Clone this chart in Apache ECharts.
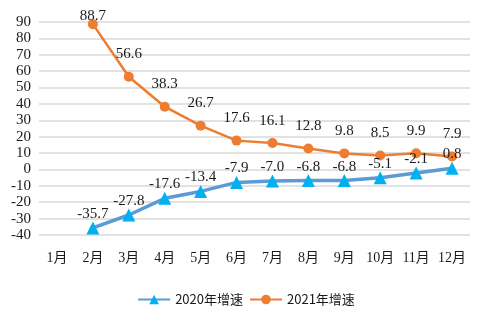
<!DOCTYPE html>
<html>
<head>
<meta charset="utf-8">
<script src="https://cdn.jsdelivr.net/npm/echarts@6/dist/echarts.min.js"></script>
<style>
  html, body { margin: 0; padding: 0; background: #ffffff; }
  #chart { width: 492px; height: 325px; }
</style>
</head>
<body>
<div id="chart"></div>
<script>
// Months along the x axis
const months = ['1月', '2月', '3月', '4月', '5月', '6月', '7月', '8月', '9月', '10月', '11月', '12月'];
// Year-on-year growth (%), cumulative by month
const growth2020 = [null, -35.7, -27.8, -17.6, -13.4, -7.9, -7.0, -6.8, -6.8, -5.1, -2.1, 0.8];
const growth2021 = [null, 88.7, 56.6, 38.3, 26.7, 17.6, 16.1, 12.8, 9.8, 8.5, 9.9, 7.9];
const seriesNames = ['2020年增速', '2021年增速'];
// Value axis range and step
const yMin = -40, yMax = 90, yStep = 10;

const serif = '"Liberation Serif", "Noto Sans CJK SC", serif';
const labelColor = '#1a1a1a';

// The topmost label would leave the plot area, so it sits beside its point
const data2021 = growth2021.map(v =>
  v !== null && v >= yMax - 5 ? { value: v, label: { distance: -4 } } : v
);

const chart = echarts.init(document.getElementById('chart'), null, { renderer: 'canvas' });
chart.setOption({
  animation: false,
  backgroundColor: '#ffffff',
  grid: { left: 39, right: 22, top: 22, bottom: 90, containLabel: false },
  legend: {
    bottom: 14,
    left: 'center',
    itemWidth: 32,
    itemHeight: 12,
    itemGap: 6,
    textStyle: { fontFamily: '"Noto Sans CJK SC", sans-serif', fontSize: 13, color: labelColor },
    data: seriesNames
  },
  xAxis: {
    type: 'category',
    data: months,
    boundaryGap: true,
    axisLine: { show: false },
    axisTick: { show: false },
    axisLabel: { interval: 0, margin: 16, fontFamily: serif, fontSize: 14, color: labelColor }
  },
  yAxis: {
    type: 'value',
    min: yMin,
    max: yMax,
    interval: yStep,
    axisLine: { show: false },
    axisTick: { show: false },
    axisLabel: { margin: 8, fontFamily: serif, fontSize: 15, color: labelColor },
    splitLine: { lineStyle: { color: '#d9d9d9', width: 1.5 } }
  },
  series: [
    {
      name: seriesNames[0],
      type: 'line',
      data: growth2020,
      symbol: 'triangle',
      symbolSize: 13,
      itemStyle: { color: '#00b0f0' },
      lineStyle: { color: '#5b9bd5', width: 3.5 },
      label: {
        show: true,
        position: 'top',
        distance: 0,
        fontFamily: serif,
        fontSize: 15,
        color: labelColor,
        formatter: p => p.value.toFixed(1)
      },
      z: 3
    },
    {
      name: seriesNames[1],
      type: 'line',
      data: data2021,
      symbol: 'circle',
      symbolSize: 10,
      itemStyle: { color: '#ed7d31' },
      lineStyle: { color: '#ed7d31', width: 2.5 },
      label: {
        show: true,
        position: 'top',
        distance: 10,
        fontFamily: serif,
        fontSize: 15,
        color: labelColor,
        formatter: p => Number(p.value).toFixed(1)
      },
      z: 2
    }
  ]
});
</script>
</body>
</html>
